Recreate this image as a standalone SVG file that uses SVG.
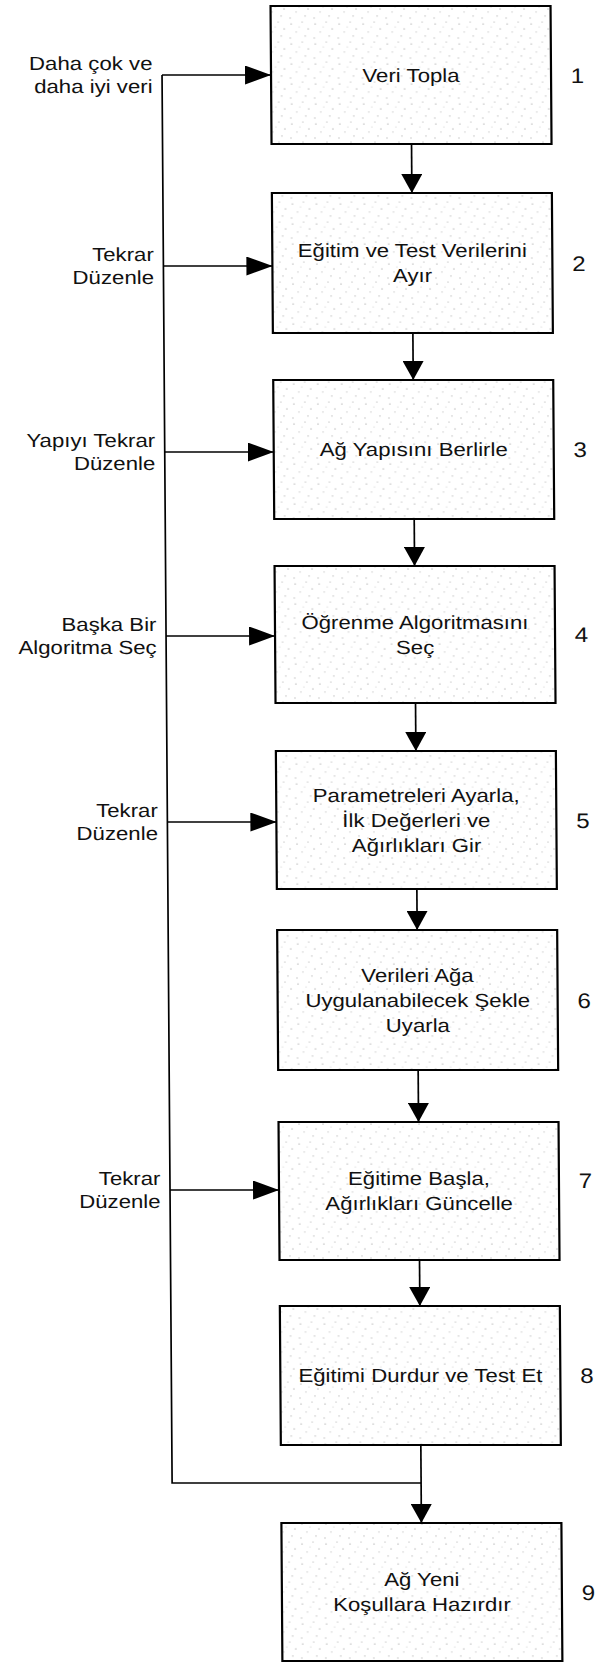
<svg xmlns="http://www.w3.org/2000/svg" width="604" height="1663" viewBox="0 0 604 1663">
  <defs>
    <!-- light stipple used as the box fill -->
    <pattern id="stipple" width="24" height="20" patternUnits="userSpaceOnUse">
      <rect width="24" height="20" fill="#ffffff"/>
      <circle cx="3" cy="4" r="0.6" fill="#9a9a9a"/>
      <circle cx="14" cy="2" r="0.6" fill="#a8a8a8"/>
      <circle cx="20" cy="9" r="0.6" fill="#9a9a9a"/>
      <circle cx="8" cy="12" r="0.6" fill="#b0b0b0"/>
      <circle cx="17" cy="16" r="0.6" fill="#9a9a9a"/>
      <circle cx="2" cy="18" r="0.6" fill="#a8a8a8"/>
      <circle cx="11" cy="7" r="0.5" fill="#bdbdbd"/>
    </pattern>
    <marker id="arrowH" markerUnits="userSpaceOnUse" markerWidth="26" markerHeight="19" refX="26" refY="9.5" orient="auto">
      <path d="M0,0 L26,9.5 L0,19 Z" fill="#000"/>
    </marker>
    <marker id="arrowV" markerUnits="userSpaceOnUse" markerWidth="19" markerHeight="21" refX="19" refY="10.5" orient="auto">
      <path d="M0,0 L19,10.5 L0,21 Z" fill="#000"/>
    </marker>
    <style>
      .box { fill: url(#stipple); stroke: #000; stroke-width: 2.2; }
      .lbl { font-family: "Liberation Sans", Arial, sans-serif; font-size: 19px; fill: #111; }
      .mid { text-anchor: middle; }
      .end { text-anchor: end; }
      .num { font-family: "Liberation Sans", Arial, sans-serif; font-size: 21px; fill: #111; text-anchor: middle; }
      .wire { fill: none; stroke: #000; stroke-width: 1.7; }
    </style>
  </defs>

  <rect width="604" height="1663" fill="#ffffff"/>

  <!-- whole drawing leans slightly to the right from top to bottom -->
  <g transform="skewX(0.41)">

    <g id="connectors">
      <!-- feedback trunk and bottom return -->
      <path class="wire" d="M161.5,75 V1483 H410.5"/>
      <!-- feedback arrows into steps -->
      <line class="wire" x1="161.5" y1="75" x2="270.5" y2="75" marker-end="url(#arrowH)"/>
      <line class="wire" x1="161.5" y1="266" x2="270.5" y2="266" marker-end="url(#arrowH)"/>
      <line class="wire" x1="161.5" y1="452" x2="270.5" y2="452" marker-end="url(#arrowH)"/>
      <line class="wire" x1="161.5" y1="636" x2="270.5" y2="636" marker-end="url(#arrowH)"/>
      <line class="wire" x1="161.5" y1="822" x2="270.5" y2="822" marker-end="url(#arrowH)"/>
      <line class="wire" x1="161.5" y1="1190" x2="270.5" y2="1190" marker-end="url(#arrowH)"/>
      <!-- step to step -->
      <line class="wire" x1="410.5" y1="144" x2="410.5" y2="193" marker-end="url(#arrowV)"/>
      <line class="wire" x1="410.5" y1="333" x2="410.5" y2="380" marker-end="url(#arrowV)"/>
      <line class="wire" x1="410.5" y1="519" x2="410.5" y2="566" marker-end="url(#arrowV)"/>
      <line class="wire" x1="410.5" y1="703" x2="410.5" y2="751" marker-end="url(#arrowV)"/>
      <line class="wire" x1="410.5" y1="889" x2="410.5" y2="930" marker-end="url(#arrowV)"/>
      <line class="wire" x1="410.5" y1="1070" x2="410.5" y2="1122" marker-end="url(#arrowV)"/>
      <line class="wire" x1="410.5" y1="1260" x2="410.5" y2="1306" marker-end="url(#arrowV)"/>
      <line class="wire" x1="410.5" y1="1445" x2="410.5" y2="1523" marker-end="url(#arrowV)"/>
    </g>

    <g id="feedback-labels">
      <text class="lbl end" transform="translate(152,75) scale(1.17,1)"><tspan x="0" y="-5.5">Daha çok ve</tspan><tspan x="0" y="18.5">daha iyi veri</tspan></text>
      <text class="lbl end" transform="translate(152,266) scale(1.17,1)"><tspan x="0" y="-5.5">Tekrar</tspan><tspan x="0" y="18.5">Düzenle</tspan></text>
      <text class="lbl end" transform="translate(152,452) scale(1.17,1)"><tspan x="0" y="-5.5">Yapıyı Tekrar</tspan><tspan x="0" y="18.5">Düzenle</tspan></text>
      <text class="lbl end" transform="translate(152,636) scale(1.17,1)"><tspan x="0" y="-5.5">Başka Bir</tspan><tspan x="0" y="18.5">Algoritma Seç</tspan></text>
      <text class="lbl end" transform="translate(152,822) scale(1.17,1)"><tspan x="0" y="-5.5">Tekrar</tspan><tspan x="0" y="18.5">Düzenle</tspan></text>
      <text class="lbl end" transform="translate(152,1190) scale(1.17,1)"><tspan x="0" y="-5.5">Tekrar</tspan><tspan x="0" y="18.5">Düzenle</tspan></text>
    </g>

    <g id="step1">
      <rect class="box" x="270.5" y="6" width="280" height="138"/>
      <text class="lbl mid" transform="translate(410.5,75) scale(1.17,1)"><tspan x="0" y="6.7">Veri Topla</tspan></text>
      <text class="num" transform="translate(577,75) scale(1.15,1)" y="7.5">1</text>
    </g>

    <g id="step2">
      <rect class="box" x="270.5" y="193" width="280" height="140"/>
      <text class="lbl mid" transform="translate(410.5,263) scale(1.17,1)"><tspan x="0" y="-5.8">Eğitim ve Test Verilerini</tspan><tspan x="0" y="19.2">Ayır</tspan></text>
      <text class="num" transform="translate(577,263) scale(1.15,1)" y="7.5">2</text>
    </g>

    <g id="step3">
      <rect class="box" x="270.5" y="380" width="280" height="139"/>
      <text class="lbl mid" transform="translate(410.5,449.5) scale(1.17,1)"><tspan x="0" y="6.7">Ağ Yapısını Berlirle</tspan></text>
      <text class="num" transform="translate(577,449.5) scale(1.15,1)" y="7.5">3</text>
    </g>

    <g id="step4">
      <rect class="box" x="270.5" y="566" width="280" height="137"/>
      <text class="lbl mid" transform="translate(410.5,634.5) scale(1.17,1)"><tspan x="0" y="-5.8">Öğrenme Algoritmasını</tspan><tspan x="0" y="19.2">Seç</tspan></text>
      <text class="num" transform="translate(577,634.5) scale(1.15,1)" y="7.5">4</text>
    </g>

    <g id="step5">
      <rect class="box" x="270.5" y="751" width="280" height="138"/>
      <text class="lbl mid" transform="translate(410.5,820) scale(1.17,1)"><tspan x="0" y="-18.3">Parametreleri Ayarla,</tspan><tspan x="0" y="6.7">İlk Değerleri ve</tspan><tspan x="0" y="31.7">Ağırlıkları Gir</tspan></text>
      <text class="num" transform="translate(577,820) scale(1.15,1)" y="7.5">5</text>
    </g>

    <g id="step6">
      <rect class="box" x="270.5" y="930" width="280" height="140"/>
      <text class="lbl mid" transform="translate(410.5,1000) scale(1.17,1)"><tspan x="0" y="-18.3">Verileri Ağa</tspan><tspan x="0" y="6.7">Uygulanabilecek Şekle</tspan><tspan x="0" y="31.7">Uyarla</tspan></text>
      <text class="num" transform="translate(577,1000) scale(1.15,1)" y="7.5">6</text>
    </g>

    <g id="step7">
      <rect class="box" x="270.5" y="1122" width="280" height="138"/>
      <text class="lbl mid" transform="translate(410.5,1191) scale(1.17,1)"><tspan x="0" y="-5.8">Eğitime Başla,</tspan><tspan x="0" y="19.2">Ağırlıkları Güncelle</tspan></text>
      <text class="num" transform="translate(577,1180) scale(1.15,1)" y="7.5">7</text>
    </g>

    <g id="step8">
      <rect class="box" x="270.5" y="1306" width="280" height="139"/>
      <text class="lbl mid" transform="translate(410.5,1375.5) scale(1.17,1)"><tspan x="0" y="6.7">Eğitimi Durdur ve Test Et</tspan></text>
      <text class="num" transform="translate(577,1375.5) scale(1.15,1)" y="7.5">8</text>
    </g>

    <g id="step9">
      <rect class="box" x="270.5" y="1523" width="280" height="138"/>
      <text class="lbl mid" transform="translate(410.5,1592) scale(1.17,1)"><tspan x="0" y="-5.8">Ağ Yeni</tspan><tspan x="0" y="19.2">Koşullara Hazırdır</tspan></text>
      <text class="num" transform="translate(577,1592) scale(1.15,1)" y="7.5">9</text>
    </g>
  </g>
</svg>
